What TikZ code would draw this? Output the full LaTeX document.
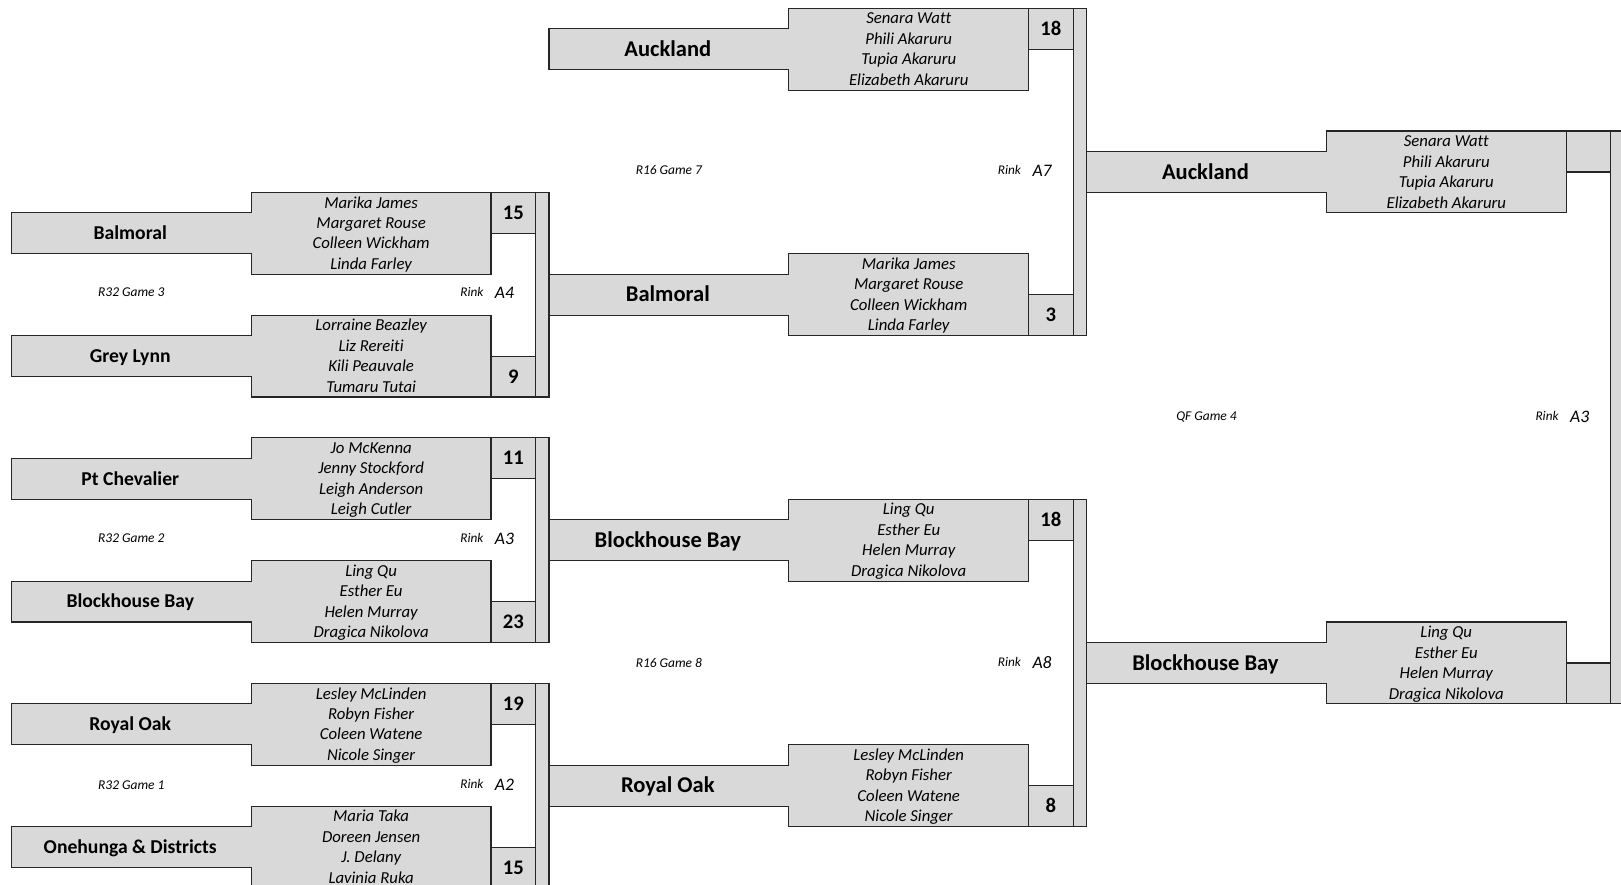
\documentclass[tikz,border=0pt]{standalone}
\usepackage{fontspec}
\setmainfont[Ligatures=NoCommon]{Carlito}
\definecolor{boxgray}{HTML}{D9D9D9}
\definecolor{edgecol}{HTML}{262626}
\tikzset{
  outline/.style={draw=edgecol, line width=0.55pt, fill=boxgray},
  teamA/.style={font=\bfseries\fontsize{9.5}{11}\selectfont, inner sep=0pt, text height=6.1pt, text depth=0pt},
  teamB/.style={font=\bfseries\fontsize{10.9}{12}\selectfont, inner sep=0pt, text height=7pt, text depth=0pt},
  pname/.style={font=\itshape\fontsize{8.1}{9}\selectfont, inner sep=0pt, text height=5.2pt, text depth=0pt},
  scoretxt/.style={font=\bfseries\fontsize{10}{12}\selectfont, inner sep=0pt, text height=6.4pt, text depth=0pt},
  gamelbl/.style={font=\itshape\fontsize{6.5}{8}\selectfont, inner sep=0pt, text height=4.2pt, text depth=0pt},
  rinklbl/.style={font=\itshape\fontsize{6.4}{8}\selectfont, inner sep=0pt, text height=4.1pt, text depth=0pt, anchor=east},
  rinkid/.style={font=\itshape\fontsize{8.5}{10}\selectfont, inner sep=0pt, text height=5.5pt, text depth=0pt},
}
\newcommand\rh{19.79}
% #1 id, #2 x0, #3 row, #4 team style, #5 team, #6 players, #7 score, #8 score slot
\newcommand\entry[8]{%
  \pgfmathsetmacro\etop{8+#3*\rh}%
  \path[outline] (#2,{\etop+\rh}) -- ({#2+232},{\etop+\rh}) -- ({#2+232},\etop) -- ({#2+464},\etop)
     -- ({#2+464},{\etop+4*\rh}) -- ({#2+232},{\etop+4*\rh}) -- ({#2+232},{\etop+3*\rh}) -- (#2,{\etop+3*\rh}) -- cycle;
  \node[#4] (#1-team) at ({#2+115},{\etop+2*\rh}) {#5};
  \foreach \nm [count=\i] in {#6} {\node[pname] (#1-p\i) at ({#2+348},{\etop+(\i-0.5)*\rh}) {\nm};}
  \path[outline] ({#2+464},{\etop+#8*2*\rh}) rectangle ({#2+507},{\etop+(#8+1)*2*\rh});
  \node[scoretxt] (#1-s) at ({#2+485.5},{\etop+(#8*2+1)*\rh}) {#7};
}
% #1 x0, #2 top row, #3 bottom row
\newcommand\vbar[3]{\path[outline] ({#1+507},{8+#2*\rh}) rectangle ({#1+520},{8+#3*\rh});}
% #1 id, #2 x0, #3 y, #4 game, #5 rink
\newcommand\glabel[5]{%
  \node[gamelbl] (#1-g) at ({#2+116},#3) {#4};
  \node[rinklbl] (#1-r) at ({#2+457},#3) {Rink};
  \node[rinkid] (#1-id) at ({#2+477},#3) {#5};
}
\begin{document}
\begin{tikzpicture}[x=0.5pt,y=-0.5pt]
\path[use as bounding box, clip] (0,0) rectangle (1568,856);
% Round of 32
\vbar{11}{9}{19}
\vbar{11}{21}{31}
\vbar{11}{33}{43}
\entry{bal1}{11}{9}{teamA}{Balmoral}{Marika James,Margaret Rouse,Colleen Wickham,Linda Farley}{15}{0}
\entry{gl1}{11}{15}{teamA}{Grey Lynn}{Lorraine Beazley,Liz Rereiti,Kili Peauvale,Tumaru Tutai}{9}{1}
\entry{pc1}{11}{21}{teamA}{Pt Chevalier}{Jo McKenna,Jenny Stockford,Leigh Anderson,Leigh Cutler}{11}{0}
\entry{bb1}{11}{27}{teamA}{Blockhouse Bay}{Ling Qu,Esther Eu,Helen Murray,Dragica Nikolova}{23}{1}
\entry{ro1}{11}{33}{teamA}{Royal Oak}{Lesley McLinden,Robyn Fisher,Coleen Watene,Nicole Singer}{19}{0}
\entry{on1}{11}{39}{teamA}{Onehunga \& Districts}{Maria Taka,Doreen Jensen,J. Delany,Lavinia Ruka}{15}{1}
\glabel{m3}{11}{283}{R32 Game 3}{A4}
\glabel{m2}{11}{521}{R32 Game 2}{A3}
\glabel{m1}{11}{759}{R32 Game 1}{A2}
% Round of 16
\vbar{531}{0}{16}
\vbar{531}{24}{40}
\entry{ak2}{531}{0}{teamB}{Auckland}{Senara Watt,Phili Akaruru,Tupia Akaruru,Elizabeth Akaruru}{18}{0}
\entry{bal2}{531}{12}{teamB}{Balmoral}{Marika James,Margaret Rouse,Colleen Wickham,Linda Farley}{3}{1}
\entry{bb2}{531}{24}{teamB}{Blockhouse Bay}{Ling Qu,Esther Eu,Helen Murray,Dragica Nikolova}{18}{0}
\entry{ro2}{531}{36}{teamB}{Royal Oak}{Lesley McLinden,Robyn Fisher,Coleen Watene,Nicole Singer}{8}{1}
\glabel{g7}{531}{165}{R16 Game 7}{A7}
\glabel{g8}{531}{641}{R16 Game 8}{A8}
% Quarter final
\vbar{1051}{6}{34}
\entry{ak3}{1051}{6}{teamB}{Auckland}{Senara Watt,Phili Akaruru,Tupia Akaruru,Elizabeth Akaruru}{}{0}
\entry{bb3}{1051}{30}{teamB}{Blockhouse Bay}{Ling Qu,Esther Eu,Helen Murray,Dragica Nikolova}{}{1}
\glabel{qf4}{1051}{403}{QF Game 4}{A3}
\end{tikzpicture}
\end{document}
